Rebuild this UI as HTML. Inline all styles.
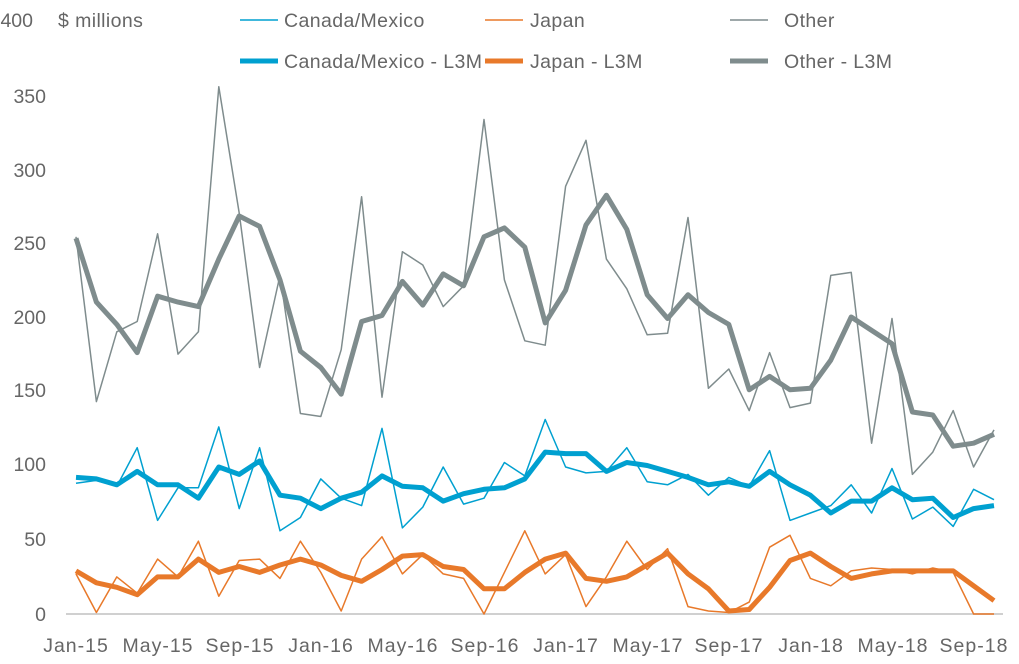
<!DOCTYPE html>
<html><head><meta charset="utf-8"><style>
html,body{margin:0;padding:0;background:#fff;}
svg{display:block;font-family:"Liberation Sans",sans-serif;}
text{fill:#666;font-size:19.5px;}
.x text{letter-spacing:1px;}
.l text{letter-spacing:0.4px;}
</style></head><body>
<svg id="c" width="1019" height="664" viewBox="0 0 1019 664">
<line x1="66" y1="614" x2="1003" y2="614" stroke="#d0d0d0" stroke-width="2"/>
<g text-anchor="end">
<text x="33" y="27">400</text>
<text x="46" y="103">350</text>
<text x="46" y="177">300</text>
<text x="46" y="250">250</text>
<text x="46" y="324">200</text>
<text x="46" y="397">150</text>
<text x="46" y="471">100</text>
<text x="46" y="546">50</text>
<text x="46" y="621">0</text>
</g>
<g class="x" text-anchor="middle">
<text x="76" y="652">Jan-15</text>
<text x="158" y="652">May-15</text>
<text x="240" y="652">Sep-15</text>
<text x="321" y="652">Jan-16</text>
<text x="403" y="652">May-16</text>
<text x="485" y="652">Sep-16</text>
<text x="566" y="652">Jan-17</text>
<text x="648" y="652">May-17</text>
<text x="729" y="652">Sep-17</text>
<text x="811" y="652">Jan-18</text>
<text x="893" y="652">May-18</text>
<text x="974" y="652">Sep-18</text>
</g>
<g class="l">
<text x="58" y="27">$ millions</text>
<line x1="240" y1="20" x2="278" y2="20" stroke="#00a0d0" stroke-width="1.5"/>
<text x="284" y="27">Canada/Mexico</text>
<line x1="485" y1="20" x2="523" y2="20" stroke="#e8792a" stroke-width="1.5"/>
<text x="530" y="27">Japan</text>
<line x1="730" y1="20" x2="768" y2="20" stroke="#7f8c8d" stroke-width="1.5"/>
<text x="784" y="27">Other</text>
<line x1="240" y1="61" x2="278" y2="61" stroke="#00a0d0" stroke-width="5"/>
<text x="284" y="68">Canada/Mexico - L3M</text>
<line x1="485" y1="61" x2="523" y2="61" stroke="#e8792a" stroke-width="5"/>
<text x="530" y="68">Japan - L3M</text>
<line x1="730" y1="61" x2="768" y2="61" stroke="#7f8c8d" stroke-width="5"/>
<text x="784" y="68">Other - L3M</text>
</g>
</svg>
<script>
var S=[
["#7f8c8d",1.5,[254,143,190,197,256,175,190,355,270,166,228,135,133,178,281,146,244,235,207,221,333,225,184,181,288,319,239,219,188,189,267,152,165,137,176,139,142,228,230,115,199,94,109,137,99,124]],
["#00a0d0",1.5,[88,90,86,112,63,85,85,126,71,112,56,65,91,78,73,125,58,72,99,74,78,102,93,131,99,95,96,112,89,87,94,80,92,86,110,63,68,73,87,68,98,64,72,59,84,77]],
["#e8792a",1.5,[27,1,25,14,37,25,49,12,36,37,24,49,28,2,37,52,27,40,27,24,0,28,56,27,40,5,25,49,30,44,5,2,1,8,45,53,24,19,29,31,30,27,31,28,0,0]],
["#7f8c8d",5,[253,210,195,176,214,210,207,239,268,261,225,177,166,148,197,201,224,208,229,221,254,260,247,196,218,262,282,259,215,199,215,203,195,151,160,151,152,171,200,191,182,136,134,113,115,121]],
["#00a0d0",5,[92,91,87,96,87,87,78,99,94,103,80,78,71,78,82,93,86,85,76,81,84,85,91,109,108,108,96,102,100,96,92,87,89,86,96,87,80,68,76,76,85,77,78,65,71,73]],
["#e8792a",5,[29,21,18,13,25,25,37,28,32,28,33,37,33,26,22,30,39,40,32,30,17,17,28,37,41,24,22,25,33,41,27,17,2,3,18,36,41,32,24,27,29,29,29,29,19,9]]
];
var svg=document.getElementById('c'),ns='http://www.w3.org/2000/svg';
S.forEach(function(s){var p=s[2].map(function(v,i){return (76+20.4*i).toFixed(1)+','+(614-v*1.485).toFixed(1)}).join(' ');
var e=document.createElementNS(ns,'polyline');e.setAttribute('points',p);e.setAttribute('fill','none');e.setAttribute('stroke',s[0]);e.setAttribute('stroke-width',s[1]);e.setAttribute('stroke-linejoin','round');svg.appendChild(e);});
</script>
</body></html>
